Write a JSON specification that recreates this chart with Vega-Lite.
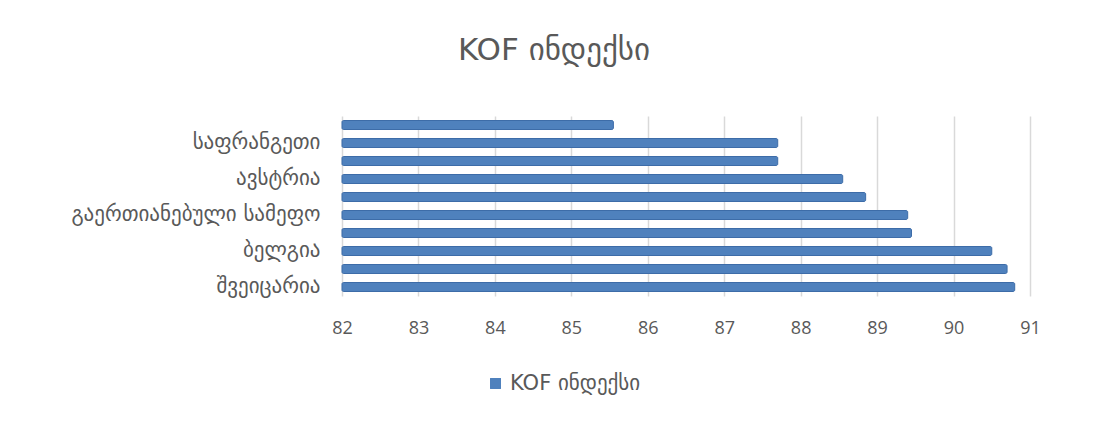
{
  "$schema": "https://vega.github.io/schema/vega-lite/v6.json",
  "width": 688,
  "height": 180,
  "autosize": "none",
  "padding": {"left": 342, "top": 116, "right": 64, "bottom": 125},
  "background": "white",
  "title": {
    "text": "KOF ინდექსი",
    "font": "DejaVu Sans",
    "fontSize": 31,
    "fontWeight": "normal",
    "color": "#595959",
    "anchor": "middle",
    "dx": -132,
    "offset": 47
  },
  "data": {
    "values": [
      {"country": "შვეიცარია", "value": 90.8},
      {"country": "ნიდერლანდები", "value": 90.7},
      {"country": "ბელგია", "value": 90.5},
      {"country": "შვედეთი", "value": 89.45},
      {"country": "გაერთიანებული სამეფო", "value": 89.4},
      {"country": "დანია", "value": 88.85},
      {"country": "ავსტრია", "value": 88.55},
      {"country": "გერმანია", "value": 87.7},
      {"country": "საფრანგეთი", "value": 87.7},
      {"country": "ფინეთი", "value": 85.55}
    ]
  },
  "mark": {"type": "bar", "stroke": "#3d6ca8", "strokeWidth": 1, "cornerRadius": 1.5},
  "encoding": {
    "y": {
      "field": "country",
      "type": "nominal",
      "sort": ["ფინეთი", "საფრანგეთი", "გერმანია", "ავსტრია", "დანია", "გაერთიანებული სამეფო", "შვედეთი", "ბელგია", "ნიდერლანდები", "შვეიცარია"],
      "scale": {"paddingInner": 0.5, "paddingOuter": 0.25},
      "axis": {
        "title": null,
        "domain": false,
        "ticks": false,
        "labelFont": "DejaVu Sans",
        "labelFontSize": 21,
        "labelColor": "#595959",
        "labelPadding": 22,
        "labelLimit": 400,
        "labelExpr": "indexof(['შვეიცარია','ბელგია','გაერთიანებული სამეფო','ავსტრია','საფრანგეთი'], datum.value) >= 0 ? datum.value : ''"
      }
    },
    "x": {
      "field": "value",
      "type": "quantitative",
      "scale": {"domain": [82, 91], "zero": false, "nice": false},
      "axis": {
        "title": null,
        "values": [82, 83, 84, 85, 86, 87, 88, 89, 90, 91],
        "domain": false,
        "ticks": false,
        "grid": true,
        "gridColor": "#d9d9d9",
        "gridWidth": 1.5,
        "labelFlush": false,
        "labelFont": "Open Sans",
        "labelFontSize": 18,
        "labelColor": "#595959",
        "labelPadding": 23
      }
    },
    "x2": {"datum": 82},
    "fill": {
      "datum": "KOF ინდექსი",
      "type": "nominal",
      "scale": {"range": ["#4f81bd"]},
      "legend": {
        "title": null,
        "orient": "none",
        "legendX": 143,
        "legendY": 257,
        "symbolType": "square",
        "symbolSize": 120,
        "symbolStrokeWidth": 0,
        "labelFont": "DejaVu Sans",
        "labelFontSize": 21,
        "labelColor": "#595959"
      }
    }
  },
  "config": {"view": {"stroke": null}}
}
